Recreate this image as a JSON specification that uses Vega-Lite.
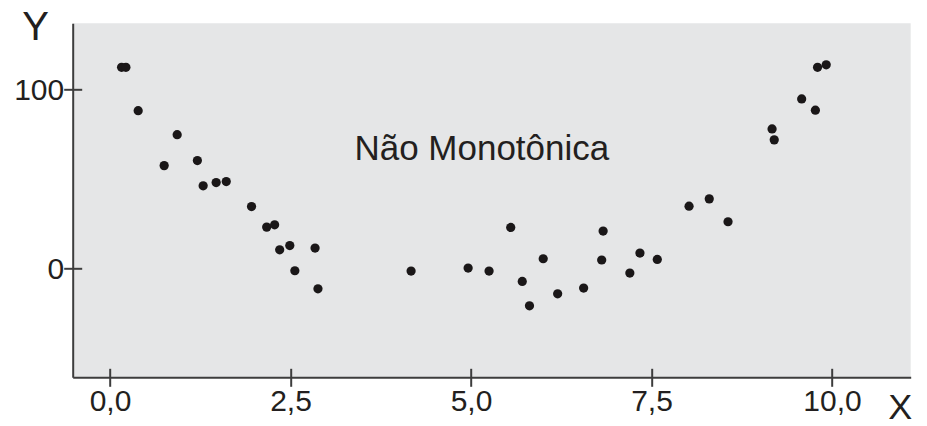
{
  "$schema": "https://vega.github.io/schema/vega-lite/v6.json",
  "width": 838,
  "height": 354,
  "autosize": {"type": "none"},
  "padding": {"left": 72.7, "top": 23.3, "right": 16, "bottom": 48.7},
  "background": "white",
  "config": {
    "view": {"fill": "#e5e6e7", "stroke": null},
    "font": "Liberation Sans"
  },
  "datasets": {
    "pts": [
      {"x": 0.16, "y": 112.3}, {"x": 0.22, "y": 112.3}, {"x": 0.39, "y": 88.0},
      {"x": 0.75, "y": 57.3}, {"x": 0.93, "y": 74.6}, {"x": 1.21, "y": 60.1},
      {"x": 1.29, "y": 46.0}, {"x": 1.47, "y": 47.8}, {"x": 1.61, "y": 48.4},
      {"x": 1.96, "y": 34.4}, {"x": 2.17, "y": 22.9}, {"x": 2.28, "y": 24.2},
      {"x": 2.35, "y": 10.2}, {"x": 2.49, "y": 12.6}, {"x": 2.56, "y": -1.5},
      {"x": 2.84, "y": 11.2}, {"x": 2.88, "y": -11.6}, {"x": 4.17, "y": -1.7},
      {"x": 4.96, "y": 0.0}, {"x": 5.25, "y": -1.7}, {"x": 5.55, "y": 22.7},
      {"x": 5.71, "y": -7.5}, {"x": 5.81, "y": -21.1}, {"x": 6.0, "y": 5.2},
      {"x": 6.2, "y": -14.4}, {"x": 6.56, "y": -11.2}, {"x": 6.83, "y": 20.7},
      {"x": 6.81, "y": 4.5}, {"x": 7.2, "y": -2.8}, {"x": 7.34, "y": 8.4},
      {"x": 7.58, "y": 4.8}, {"x": 8.02, "y": 34.6}, {"x": 8.3, "y": 38.7},
      {"x": 8.56, "y": 25.9}, {"x": 9.17, "y": 77.8}, {"x": 9.2, "y": 71.7},
      {"x": 9.58, "y": 94.6}, {"x": 9.77, "y": 88.3}, {"x": 9.8, "y": 112.3},
      {"x": 9.92, "y": 113.7}
    ],
    "label": [{"x": 5.15, "y": 60.5, "text": "Não Monotônica"}]
  },
  "resolve": {"axis": {"x": "independent", "y": "independent"}},
  "layer": [
    {
      "data": {"name": "pts"},
      "mark": {"type": "circle", "size": 85, "opacity": 1, "color": "#1a1718"},
      "encoding": {
        "x": {
          "field": "x", "type": "quantitative",
          "scale": {"domain": [-0.517, 11.09], "nice": false, "zero": false},
          "axis": {
            "orient": "bottom",
            "values": [0, 2.5, 5, 7.5, 10],
            "labelExpr": "replace(format(datum.value, '.1f'), '.', ',')",
            "grid": false,
            "domainColor": "#3d3d3d", "domainWidth": 2,
            "tickColor": "#3d3d3d", "tickWidth": 2, "tickSize": 9,
            "labelFontSize": 30, "labelColor": "#231f20", "labelPadding": 0,
            "labelFlush": false,
            "title": "X", "titleFontSize": 36, "titleFontWeight": "normal",
            "titleColor": "#231f20", "titleX": 827, "titleY": 41,
            "titleAlign": "center", "titleBaseline": "alphabetic", "titleAnchor": null
          }
        },
        "y": {
          "field": "y", "type": "quantitative",
          "scale": {"domain": [-61.1, 136.9], "nice": false, "zero": false},
          "axis": {
            "orient": "left",
            "values": [0, 100],
            "grid": false,
            "domainColor": "#3d3d3d", "domainWidth": 2,
            "tickColor": "#3d3d3d", "tickWidth": 2, "tickSize": 9,
            "labelFontSize": 30, "labelColor": "#231f20", "labelPadding": 0,
            "labelFlush": false, "labelOffset": 1,
            "title": "Y", "titleFontSize": 40, "titleFontWeight": "normal",
            "titleColor": "#231f20", "titleAngle": 0, "titleX": -37.7, "titleY": 15.7,
            "titleAlign": "center", "titleBaseline": "alphabetic", "titleAnchor": null
          }
        }
      }
    },
    {
      "data": {"name": "label"},
      "mark": {"type": "text", "fontSize": 35, "color": "#231f20", "align": "center", "baseline": "alphabetic"},
      "encoding": {
        "x": {
          "field": "x", "type": "quantitative",
          "axis": {
            "orient": "bottom", "values": [0, 2.5, 5, 7.5, 10], "offset": -9,
            "labels": false, "domain": false, "grid": false, "title": null,
            "tickColor": "#3d3d3d", "tickWidth": 2, "tickSize": 9
          }
        },
        "y": {
          "field": "y", "type": "quantitative",
          "axis": {
            "orient": "left", "values": [0, 100], "offset": -9,
            "labels": false, "domain": false, "grid": false, "title": null,
            "tickColor": "#3d3d3d", "tickWidth": 2, "tickSize": 9
          }
        },
        "text": {"field": "text"}
      }
    }
  ]
}
